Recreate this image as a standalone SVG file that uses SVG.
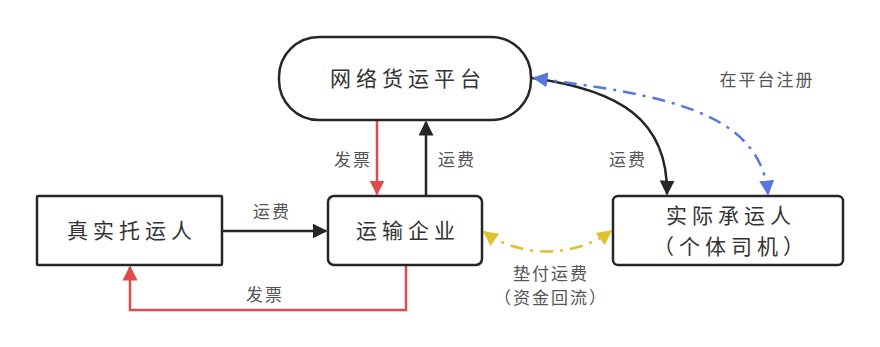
<svg xmlns="http://www.w3.org/2000/svg" width="880" height="347" viewBox="0 0 880 347">
<style>
.node{fill:#fff;stroke:#262626;stroke-width:2.5}
.nt{font-family:"Noto Sans CJK SC","Noto Sans",sans-serif;font-size:21px;fill:#333;text-anchor:middle;letter-spacing:5px}
.lb{font-family:"Noto Sans CJK SC","Noto Sans",sans-serif;font-size:17px;fill:#555;text-anchor:middle;letter-spacing:2px}
.k{fill:none;stroke:#262626;stroke-width:2.5}
.r{fill:none;stroke:#e04a4a;stroke-width:2.5}
.b{fill:none;stroke:#5676e0;stroke-width:2.5;stroke-dasharray:13 7 3 7}
.y{fill:none;stroke:#e0c030;stroke-width:2.5;stroke-dasharray:13 7 3 7}
</style>
<defs>
<marker id="ar" viewBox="0 0 10 10" refX="9" refY="5" markerWidth="6" markerHeight="6" orient="auto-start-reverse"><path d="M0,0 L10,5 L0,10 z" fill="#e04a4a"/></marker>
<marker id="ab" viewBox="0 0 10 10" refX="9" refY="5" markerWidth="6" markerHeight="6" orient="auto-start-reverse"><path d="M0,0 L10,5 L0,10 z" fill="#5676e0"/></marker>
<marker id="ay" viewBox="0 0 10 10" refX="9" refY="5" markerWidth="6" markerHeight="6" orient="auto-start-reverse"><path d="M0,0 L10,5 L0,10 z" fill="#e0c030"/></marker>
<marker id="ak" viewBox="0 0 10 10" refX="9" refY="5" markerWidth="6" markerHeight="6" orient="auto-start-reverse"><path d="M0,0 L10,5 L0,10 z" fill="#262626"/></marker>
</defs>
<rect width="880" height="347" fill="#fff"/>
<g id="connectors">
<path class="k" d="M222,231 H326" marker-end="url(#ak)"/>
<path class="r" d="M377,121 V194" marker-end="url(#ar)"/>
<path class="k" d="M426,196 V122" marker-end="url(#ak)"/>
<path class="r" d="M406,266 V310 H130 V267" marker-end="url(#ar)"/>
<path class="k" d="M532,78 C620,90 668,120 667,194" marker-end="url(#ak)"/>
<path class="b" d="M534,78 C660,95 760,110 768,194" marker-start="url(#ab)" marker-end="url(#ab)"/>
<path class="y" d="M484,232 C520,258 575,258 611,231" marker-start="url(#ay)" marker-end="url(#ay)"/>
<text class="lb" x="272" y="218">运费</text>
<text class="lb" x="353" y="166">发票</text>
<text class="lb" x="457" y="166">运费</text>
<text class="lb" x="265" y="301">发票</text>
<text class="lb" x="628" y="166">运费</text>
<text class="lb" x="767" y="86">在平台注册</text>
<text class="lb" x="551" y="280">垫付运费</text>
<text class="lb" x="551" y="304">（资金回流）</text>
</g>
<g id="platform">
<rect class="node" x="279" y="37" width="252" height="83" rx="40"/>
<text class="nt" x="408" y="86">网络货运平台</text>
</g>
<g id="shipper">
<rect class="node" x="37" y="196" width="185" height="69" rx="1"/>
<text class="nt" x="132" y="238">真实托运人</text>
</g>
<g id="enterprise">
<rect class="node" x="328" y="196" width="154" height="69" rx="6"/>
<text class="nt" x="408" y="238">运输企业</text>
</g>
<g id="carrier">
<rect class="node" x="613" y="196" width="230" height="69" rx="5"/>
<text class="nt" x="731" y="223">实际承运人</text>
<text class="nt" x="731" y="254">（个体司机）</text>
</g>
</svg>
